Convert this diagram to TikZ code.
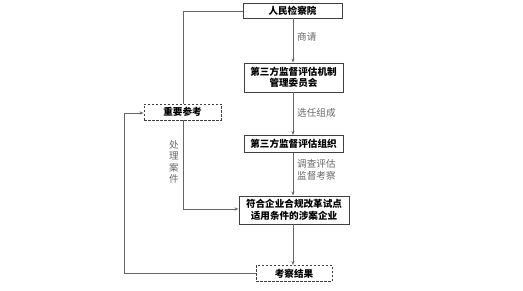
\documentclass[tikz,border=0pt]{standalone}
\usepackage{fontspec}
\setmainfont{Noto Sans CJK SC}
\usetikzlibrary{arrows.meta}
\begin{document}
\begin{tikzpicture}[x=1pt,y=-1pt,
  box/.style={draw=black!75,line width=0.9pt,fill=white,inner sep=0pt,align=center,font=\fontsize{9.6}{11.5}\selectfont\bfseries},
  dbox/.style={box,dashed,dash pattern=on 2.5pt off 1.5pt},
  conn/.style={draw=black!60,line width=0.7pt},
  arr/.style={conn,-{Stealth[length=4pt,width=3pt]}},
  lbl/.style={text=black!60,font=\fontsize{9.6}{11.5}\selectfont,inner sep=0pt,align=left}]
\useasboundingbox (0,0) rectangle (523,291);
\node[box,minimum width=99pt,minimum height=15pt] (a) at (292.5,10.5) {人民检察院};
\node[box,minimum width=99pt,minimum height=29pt] (b) at (293.5,77.5) {第三方监督评估机制\\管理委员会};
\node[box,minimum width=99pt,minimum height=17pt] (c) at (293.5,144) {第三方监督评估组织};
\node[box,minimum width=110pt,minimum height=28pt] (d) at (294,210) {符合企业合规改革试点\\适用条件的涉案企业};
\node[dbox,minimum width=76pt,minimum height=16pt] (e) at (294,273.5) {考察结果};
\node[dbox,minimum width=77pt,minimum height=16pt] (f) at (182.5,112) {重要参考};
\draw[arr] (a.south -| 293,0) -- (b.north -| 293,0);
\draw[arr] (b.south -| 293,0) -- (c.north -| 293,0);
\draw[arr] (c.south -| 293,0) -- (d.north -| 293,0);
\draw[arr] (d.south -| 293,0) -- (e.north -| 293,0);
\node[lbl,anchor=west] (l1) at (297,37) {商请};
\node[lbl,anchor=west] (l2) at (297,113) {选任组成};
\node[lbl,anchor=west] (l3) at (297,170) {调查评估\\监督考察};
\node[lbl,align=center,font=\fontsize{9.6}{11.5}\selectfont] (l4) at (174,162) {处\\理\\案\\件};
\coordinate (p1) at (183,11);
\coordinate (p2) at (183,209);
\coordinate (p3) at (124,273);
\coordinate (p4) at (124,113);
\draw[conn] (a.west |- p1) -- (p1) -- (f.north -| p1);
\draw[arr] (f.south -| p2) -- (p2) -- (d.west |- p2);
\draw[arr] (e.west |- p3) -- (p3) -- (p4) -- (f.west |- p4);
\end{tikzpicture}
\end{document}
